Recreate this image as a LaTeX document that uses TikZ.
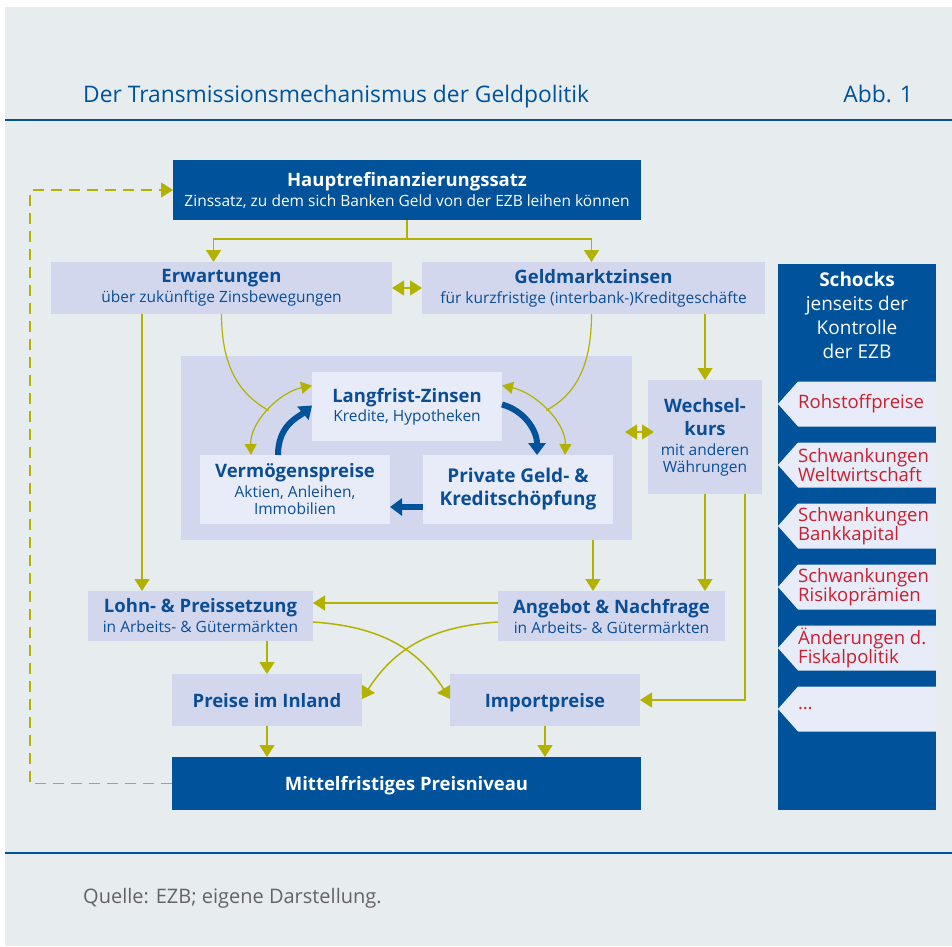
\documentclass[tikz,border=0pt]{standalone}
\usepackage{fontspec}
\setmainfont{Open Sans}
\usetikzlibrary{arrows.meta}

\definecolor{ezbblue}{RGB}{0,82,155}
\definecolor{ezbtext}{RGB}{12,78,150}
\definecolor{paper}{RGB}{231,236,239}
\definecolor{boxlav}{RGB}{210,215,238}
\definecolor{boxpale}{RGB}{232,236,248}
\definecolor{arrowgreen}{RGB}{180,178,0}
\definecolor{shockred}{RGB}{200,32,48}
\definecolor{footgrey}{RGB}{100,100,100}

\newcommand\boxhead[1]{{\fontsize{18.5}{20}\selectfont\bfseries #1}}

\begin{document}
\begin{tikzpicture}[x=1pt,y=-1pt,
	dark/.style={fill=ezbblue,text=white,inner sep=0,outer sep=0,align=center,font=\fontsize{15.5}{17}\selectfont},
	light/.style={fill=boxlav,text=ezbtext,inner sep=0,outer sep=0,align=center,font=\fontsize{15.5}{17}\selectfont},
	pale/.style={fill=boxpale,text=ezbtext,inner sep=0,outer sep=0,align=center,font=\fontsize{15.5}{17}\selectfont},
	flow/.style={draw=arrowgreen,line width=1.5pt,-{Triangle[width=15pt,length=12pt]}},
	both/.style={draw=arrowgreen,line width=1.5pt,{Triangle[width=15pt,length=12pt]}-{Triangle[width=15pt,length=12pt]}},
	smallboth/.style={draw=arrowgreen,line width=1.2pt,{Triangle[width=12pt,length=11pt]}-{Triangle[width=12pt,length=11pt]}},
	feed/.style={draw=arrowgreen,line width=1.2pt},
	bigflow/.style={draw=ezbblue,line width=6pt,-{Triangle[width=17pt,length=12pt]}}
]
	\useasboundingbox (0,0) rectangle (952,946);
	\fill[paper] (5,7) rectangle (952,946);
	\draw[ezbblue,line width=1.5pt] (5,120) -- (952,120);
	\draw[ezbblue,line width=1.5pt] (5,853) -- (952,853);
	\node[anchor=base west,inner sep=0,text=ezbblue,font=\fontsize{22.8}{26}\selectfont] (title) at (83,102) {Der Transmissionsmechanismus der Geldpolitik};
	\node[anchor=base east,inner sep=0,text=ezbblue,font=\fontsize{22.8}{26}\selectfont] (abb) at (913,102) {Abb. 1};
	\node[anchor=base west,inner sep=0,text=footgrey,font=\fontsize{20}{22}\selectfont] (quelle) at (83,903) {Quelle: EZB; eigene Darstellung.};

	\node[dark,minimum width=468,minimum height=60] (hrs) at (407,190) {\boxhead{Hauptrefinanzierungssatz}\\[3pt]Zinssatz, zu dem sich Banken Geld von der EZB leihen können};
	\node[light,minimum width=341,minimum height=52] (erw) at (221.5,288) {\boxhead{Erwartungen}\\[3pt]über zukünftige Zinsbewegungen};
	\node[light,minimum width=343,minimum height=52] (gmz) at (593.5,288) {\boxhead{Geldmarktzinsen}\\[3pt]für kurzfristige (interbank-)Kreditgeschäfte};
	\node[light,minimum width=451,minimum height=184] (ctr) at (406.5,448) {};
	\node[pale,minimum width=190,minimum height=69] (lang) at (407,406.5) {\boxhead{Langfrist-Zinsen}\\[2pt]Kredite, Hypotheken};
	\node[pale,minimum width=190,minimum height=69] (verm) at (295,489.5) {\boxhead{Vermögenspreise}\\[3pt]Aktien, Anleihen,\\Immobilien};
	\node[pale,minimum width=190,minimum height=69,font=\fontsize{19}{23}\selectfont\bfseries] (priv) at (518,489.5) {Private Geld- \&\\Kreditschöpfung};
	\node[light,minimum width=114,minimum height=114] (wk) at (705,437) {\boxhead{Wechsel-}\\[6pt]\boxhead{kurs}\\[3pt]mit anderen\\Währungen};
	\node[light,minimum width=225,minimum height=50] (lohn) at (200.5,616) {\boxhead{Lohn- \& Preissetzung}\\[3pt]in Arbeits- \& Gütermärkten};
	\node[light,minimum width=227,minimum height=50] (ang) at (611.5,616) {\boxhead{Angebot \& Nachfrage}\\[3pt]in Arbeits- \& Gütermärkten};
	\node[light,minimum width=190,minimum height=52,text depth=0pt] (preise) at (267,700) {\boxhead{Preise im Inland}};
	\node[light,minimum width=190,minimum height=52,text depth=0pt] (imp) at (545,700) {\boxhead{Importpreise}};
	\node[dark,minimum width=469,minimum height=53,text depth=0pt] (mpn) at (406.5,783.5) {\boxhead{Mittelfristiges Preisniveau}};

	\node[dark,minimum width=158,minimum height=546,anchor=north west] (schocks) at (778,264) {};
	\node[anchor=north,inner sep=0,align=center,text=white,font=\fontsize{19}{24}\selectfont] (schockstxt) at ([yshift=-8]schocks.north) {\textbf{Schocks}\\jenseits der\\Kontrolle\\der EZB};
	\foreach \y/\lbl [count=\i] in {404/Rohstoffpreise, 465/{Schwankungen\\Weltwirtschaft}, 526/{Schwankungen\\Bankkapital}, 587/{Schwankungen\\Risikoprämien}, 648/{Änderungen d.\\Fiskalpolitik}, 709/\dots}{
		\fill[boxpale] (936,{\y-22.5}) -- (798,{\y-22.5}) -- (778,\y) -- (798,{\y+22.5}) -- (936,{\y+22.5}) -- cycle;
		\node[anchor=west,inner sep=0,align=left,text=shockred,font=\fontsize{18.5}{19}\selectfont] (tab\i) at (798,\y) {\lbl};
	}

	\draw[flow] (hrs.south) -- ++(0,19) coordinate (fork) -| ([xshift=-8]erw.north);
	\draw[flow] (fork) -| ([xshift=-2]gmz.north);
	\draw[both] (erw) -- (gmz);
	\draw[flow] ([xshift=-58.5]lohn.north |- erw.south) -- ([xshift=-58.5]lohn.north);
	\draw[flow] (wk.north |- gmz.south) -- (wk.north);
	\draw[both,shorten <=-7pt,shorten >=-6pt] ([yshift=5]wk.west -| ctr.east) -- ([yshift=5]wk.west);

	\draw[smallboth] ([xshift=-44]verm.north) .. controls +(-1,-33) and +(-33,7) .. ([yshift=21]lang.west) coordinate[pos=.5] (lfork);
	\draw[feed] (erw.south) .. controls +(0,56) and +(-27,-15) .. (lfork);
	\draw[smallboth] ([yshift=21]lang.east) .. controls +(33,7) and +(1,-33) .. ([xshift=47]priv.north) coordinate[pos=.5] (rfork);
	\draw[feed] ([xshift=-2]gmz.south) .. controls +(0,56) and +(27,-15) .. (rfork);
	\draw[bigflow] ([xshift=-17]verm.north) .. controls +(0,-30) and +(-14,12) .. ([yshift=1]lang.west);
	\draw[bigflow] ([yshift=2]lang.east) .. controls +(22,6) and +(0,-25) .. ([xshift=19]priv.north);
	\draw[bigflow] ([yshift=-17.5]priv.west) -- ([yshift=-17.5]verm.east);

	\draw[flow] ([xshift=-18.5]ang.north |- ctr.south) -- ([xshift=-18.5]ang.north);
	\draw[flow] (wk.south) -- (wk.south |- ang.north);
	\draw[flow] ([xshift=40]wk.south) |- (imp.east);
	\draw[flow] ([yshift=13]ang.west) -- ([yshift=13]lohn.east);
	\draw[flow] ([yshift=-6]lohn.east) .. controls +(60,4) and +(-35,-55) .. ([yshift=1]imp.west);
	\draw[flow] ([yshift=-6]ang.west) .. controls +(-60,4) and +(35,-55) .. ([yshift=1]preise.east);
	\draw[flow] (preise.north |- lohn.south) -- (preise.north);
	\draw[flow] (preise.south) -- (preise.south |- mpn.north);
	\draw[flow] (imp.south) -- (imp.south |- mpn.north);
	\draw[flow,dash pattern=on 11pt off 7pt] (mpn.west) -- ++(-142,0) |- (hrs.west);
\end{tikzpicture}
\end{document}
